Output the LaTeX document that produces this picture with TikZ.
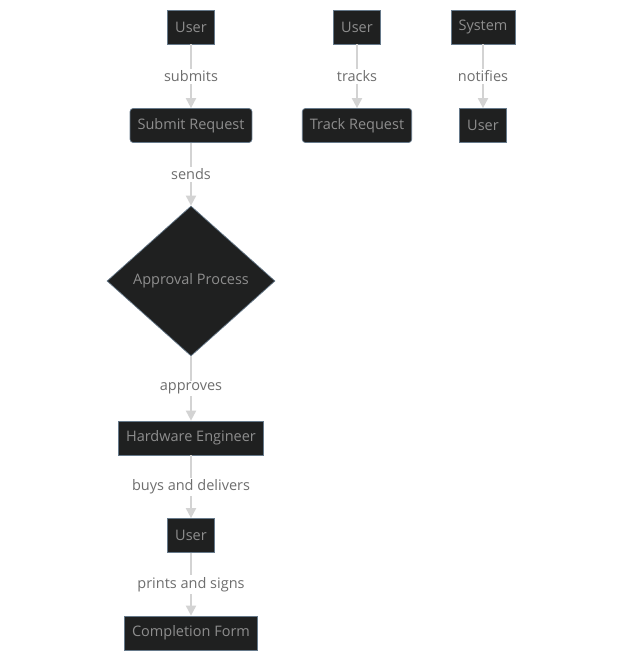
\documentclass[tikz,border=0pt]{standalone}
\usepackage{fontspec}
\setmainfont{Open Sans}
\usetikzlibrary{arrows.meta,shapes.geometric}
\definecolor{boxfill}{HTML}{1F2020}
\definecolor{boxline}{HTML}{66798A}
\definecolor{boxtext}{HTML}{8E8E8E}
\definecolor{edgeline}{HTML}{D3D3D3}
\definecolor{edgetext}{HTML}{6E6E6E}

\tikzset{
    stepbox/.style={draw=boxline,line width=0.7pt,fill=boxfill,text=boxtext,
        minimum height=34pt,inner xsep=7.5pt,inner ysep=0pt,font=\fontsize{14.5}{16}\selectfont},
    roundbox/.style={stepbox,rounded corners=3pt},
    decision/.style={diamond,draw=boxline,line width=0.7pt,fill=boxfill,text=boxtext,
        minimum width=168pt,minimum height=150pt,inner sep=0pt,font=\fontsize{14.5}{16}\selectfont},
    flow/.style={draw=edgeline,line width=1.8pt,-{Triangle[width=10pt,length=10pt]}},
    flowlabel/.style={midway,fill=white,text=edgetext,inner sep=2pt,font=\fontsize{14.5}{16}\selectfont}
}

\begin{document}
\begin{tikzpicture}[x=1pt,y=-1pt]
    \useasboundingbox (0,0) rectangle (620,660);

    % first column
    \node[stepbox] (user) at (191,27) {User};
    \node[roundbox] (submit) at (191,125.5) {Submit Request};
    \node[decision] (approval) at (191,281) {Approval Process};
    \node[stepbox] (engineer) at (191,438) {Hardware Engineer};
    \node[stepbox] (receiver) at (191,535.5) {User};
    \node[stepbox] (form) at (191,633) {Completion Form};

    % second and third column
    \node[stepbox] (tracker) at (357,27) {User};
    \node[roundbox] (track) at (357,125.5) {Track Request};
    \node[stepbox] (system) at (483,27) {System};
    \node[stepbox] (notified) at (483,125.5) {User};

    \draw[flow] (user) -- node[flowlabel] {submits} (submit);
    \draw[flow] (submit) -- node[flowlabel] {sends} (approval);
    \draw[flow] (approval) -- node[flowlabel] {approves} (engineer);
    \draw[flow] (engineer) -- node[flowlabel] {buys and delivers} (receiver);
    \draw[flow] (receiver) -- node[flowlabel] {prints and signs} (form);
    \draw[flow] (tracker) -- node[flowlabel] {tracks} (track);
    \draw[flow] (system) -- node[flowlabel] {notifies} (notified);
\end{tikzpicture}
\end{document}
